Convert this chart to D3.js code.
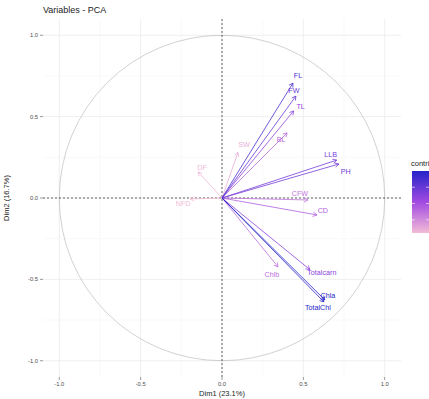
<!DOCTYPE html>
<html><head><meta charset="utf-8">
<script src="https://cdn.jsdelivr.net/npm/d3@7"></script>
<style>body{margin:0;background:#fff}svg{display:block;font-family:"Liberation Sans",Arial,sans-serif}</style>
</head><body><svg id="c" width="429" height="399"></svg>
<script>
const variables = ["FL","FW","TL","BL","LLB","PH","CFW","CD","Chlb","Totalcarn","Chla","TotalChl","DF","SW","NFD"];
const dim1 = [0.436,0.454,0.440,0.400,0.705,0.718,0.528,0.583,0.344,0.540,0.632,0.626,-0.147,0.098,-0.196];
const dim2 = [0.706,0.626,0.535,0.400,0.233,0.209,-0.012,-0.104,-0.423,-0.440,-0.626,-0.638,0.160,0.280,-0.006];
const labelNudge = [[5,-8],[-2,-6],[7,-4],[-6,7],[-6,-6],[7,8],[-8,-6],[6,-4],[-6,8],[12,3],[3,-4],[-6,6],[4,-4],[6,-8],[-7,5]];
const majorTicks = [-1,-0.5,0,0.5,1];
const minorTicks = [-0.75,-0.25,0.25,0.75];
const tickLabels = ["-1.0","-0.5","0.0","0.5","1.0"];
const title = "Variables - PCA";
const xTitle = "Dim1 (23.1%)", yTitle = "Dim2 (16.7%)";

const svg = d3.select("#c");
const x = d3.scaleLinear().domain([-1.1,1.1]).range([43,401]);
const y = d3.scaleLinear().domain([-1.1,1.1]).range([377,19]);

const contrib = dim1.map((v,i)=>v*v+dim2[i]*dim2[i]);
const cmin = d3.min(contrib), cmax = d3.max(contrib);
const color = d3.scaleLinear().domain([cmin,(cmin+cmax)/2,cmax]).range(["#F2BCD6","#A24AE2","#2424C8"]);

const g = svg.append("g");
// grid
g.selectAll(".mnx").data(minorTicks).join("line").attr("x1",d=>x(d)).attr("x2",d=>x(d)).attr("y1",19).attr("y2",377).attr("stroke","#f3f3f3").attr("stroke-width",0.5);
g.selectAll(".mny").data(minorTicks).join("line").attr("y1",d=>y(d)).attr("y2",d=>y(d)).attr("x1",43).attr("x2",401).attr("stroke","#f3f3f3").attr("stroke-width",0.5);
g.selectAll(".mjx").data(majorTicks).join("line").attr("x1",d=>x(d)).attr("x2",d=>x(d)).attr("y1",19).attr("y2",377).attr("stroke","#ebebeb").attr("stroke-width",0.8);
g.selectAll(".mjy").data(majorTicks).join("line").attr("y1",d=>y(d)).attr("y2",d=>y(d)).attr("x1",43).attr("x2",401).attr("stroke","#ebebeb").attr("stroke-width",0.8);

// circle
g.append("circle").attr("cx",x(0)).attr("cy",y(0)).attr("r",x(1)-x(0)).attr("fill","none").attr("stroke","#bdbdbd").attr("stroke-width",0.7);

// dashed axes
g.append("line").attr("x1",43).attr("x2",401).attr("y1",y(0)).attr("y2",y(0)).attr("stroke","#222").attr("stroke-width",0.7).attr("stroke-dasharray","2,2");
g.append("line").attr("y1",19).attr("y2",377).attr("x1",x(0)).attr("x2",x(0)).attr("stroke","#222").attr("stroke-width",0.7).attr("stroke-dasharray","2,2");

// arrows
const order = d3.range(variables.length).sort((a,b)=>contrib[a]-contrib[b]);
order.forEach(i=>{
  const x0=x(0), y0=y(0), x1=x(dim1[i]), y1=y(dim2[i]);
  const c = color(contrib[i]);
  g.append("line").attr("x1",x0).attr("y1",y0).attr("x2",x1).attr("y2",y1).attr("stroke",c).attr("stroke-width",0.8);
  const ang = Math.atan2(y1-y0,x1-x0), L=4.5, a=Math.PI/6;
  const p = [[x1-L*Math.cos(ang-a), y1-L*Math.sin(ang-a)],[x1,y1],[x1-L*Math.cos(ang+a), y1-L*Math.sin(ang+a)]];
  g.append("path").attr("d",d3.line()(p)).attr("fill","none").attr("stroke",c).attr("stroke-width",0.8);
});
order.forEach(i=>{
  g.append("text").attr("x",x(dim1[i])+labelNudge[i][0]).attr("y",y(dim2[i])+labelNudge[i][1])
   .attr("text-anchor","middle").attr("dominant-baseline","central").attr("font-size",7.2).attr("fill",color(contrib[i])).text(variables[i]);
});

// axes ticks
const ax = svg.append("g").attr("fill","#4d4d4d").attr("font-size",5.8);
majorTicks.forEach((t,i)=>{
  ax.append("line").attr("x1",x(t)).attr("x2",x(t)).attr("y1",377).attr("y2",380).attr("stroke","#333").attr("stroke-width",0.5);
  ax.append("text").attr("x",x(t)).attr("y",386).attr("text-anchor","middle").text(tickLabels[i]);
  ax.append("line").attr("x1",40).attr("x2",43).attr("y1",y(t)).attr("y2",y(t)).attr("stroke","#333").attr("stroke-width",0.5);
  ax.append("text").attr("x",38).attr("y",y(t)).attr("text-anchor","end").attr("dominant-baseline","central").text(tickLabels[i]);
});
svg.append("text").attr("x",x(0)).attr("y",396).attr("text-anchor","middle").attr("font-size",7.5).attr("fill","#222").text(xTitle);
svg.append("text").attr("transform",`translate(9,${y(0)}) rotate(-90)`).attr("text-anchor","middle").attr("font-size",7.5).attr("fill","#222").text(yTitle);
svg.append("text").attr("x",43).attr("y",13).attr("font-size",9).attr("fill","#222").text(title);

// legend
const defs = svg.append("defs");
const grad = defs.append("linearGradient").attr("id","lg").attr("x1",0).attr("y1",1).attr("x2",0).attr("y2",0);
[0,0.5,1].forEach(f=>grad.append("stop").attr("offset",f).attr("stop-color",color(cmin+f*(cmax-cmin))));
svg.append("text").attr("x",411).attr("y",166).attr("font-size",7.5).attr("fill","#222").text("contrib");
svg.append("rect").attr("x",412).attr("y",171).attr("width",17).attr("height",62).attr("fill","url(#lg)");
const ls = d3.scaleLinear().domain([cmin,cmax]).range([233,171]);
[0.2,0.4,0.6].forEach(v=>{
  if(v>cmin && v<cmax){
    svg.append("line").attr("x1",412).attr("x2",415).attr("y1",ls(v)).attr("y2",ls(v)).attr("stroke","#fff").attr("stroke-width",0.6);
    svg.append("line").attr("x1",426).attr("x2",429).attr("y1",ls(v)).attr("y2",ls(v)).attr("stroke","#fff").attr("stroke-width",0.6);
  }
});
</script></body></html>
